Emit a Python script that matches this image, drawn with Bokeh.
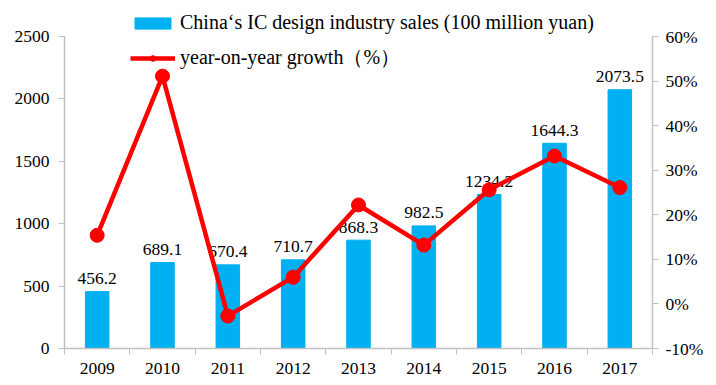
from bokeh.plotting import figure
from bokeh.models import (Range1d, LinearAxis, FixedTicker, NumeralTickFormatter,
                          Legend, LegendItem, ColumnDataSource)
from bokeh.embed import file_html
from bokeh.resources import INLINE
from bokeh.core.properties import value

years = ["2009", "2010", "2011", "2012", "2013", "2014", "2015", "2016", "2017"]
sales = [456.2, 689.1, 670.4, 710.7, 868.3, 982.5, 1234.2, 1644.3, 2073.5]
growth = [0.154, 0.511, -0.027, 0.060, 0.222, 0.132, 0.256, 0.332, 0.261]
sales_labels = ["456.2", "689.1", "670.4", "710.7", "868.3", "982.5", "1234.2", "1644.3", "2073.5"]
left_ticks = [0, 500, 1000, 1500, 2000, 2500]
right_ticks = [-0.1, 0, 0.1, 0.2, 0.3, 0.4, 0.5, 0.6]

FONT = "Liberation Serif"
GREY = "#bfbfbf"
BLUE = "#00B0F0"
RED = "#FF0000"

# frame extends above the top tick so that the legend is not clipped
AXIS_PX = 312.0   # height of the drawn axis span
TOP_PAD = 31.0    # extra frame height above the top tick
ext = (AXIS_PX + TOP_PAD) / AXIS_PX

xs = [i + 0.5 for i in range(len(years))]
src = ColumnDataSource(dict(x=xs, sales=sales, growth=growth, lab=sales_labels))

l0, l1 = left_ticks[0], left_ticks[-1]
r0, r1 = right_ticks[0], right_ticks[-1]

p = figure(width=708, height=377, output_backend="svg", toolbar_location=None,
           x_range=Range1d(0, len(years)), y_range=Range1d(l0, l0 + (l1 - l0) * ext),
           min_border_left=64, min_border_right=56, min_border_top=5, min_border_bottom=29)
p.outline_line_color = None
p.xgrid.visible = False
p.ygrid.visible = False
p.extra_y_ranges = {"pct": Range1d(r0, r0 + (r1 - r0) * ext)}

bars = p.vbar(x="x", top="sales", width=0.36, color=BLUE, source=src)
p.text(x="x", y="sales", text="lab", source=src, text_align="center",
       text_baseline="alphabetic", y_offset=-13, text_font=value(FONT),
       text_font_size="17.5px", text_color="#000000")
line = p.line(x="x", y="growth", y_range_name="pct", line_color=RED, line_width=4.5, source=src)
dots = p.scatter(x="x", y="growth", y_range_name="pct", size=14, fill_color=RED,
                 line_color=RED, source=src)

# x axis
xa = p.xaxis[0]
xa.ticker = FixedTicker(ticks=xs, minor_ticks=list(range(len(years) + 1)))
xa.major_label_overrides = {x: y for x, y in zip(xs, years)}
xa.major_tick_line_color = None
xa.major_tick_out = 0
xa.major_tick_in = 0
xa.minor_tick_line_color = GREY
xa.minor_tick_out = 6
xa.minor_tick_in = 0
xa.axis_line_color = GREY
xa.axis_line_width = 1.5
xa.major_label_standoff = 8

# left axis
ya = p.yaxis[0]
ya.ticker = FixedTicker(ticks=left_ticks)
ya.bounds = (l0, l1)
ya.minor_tick_line_color = None
ya.major_tick_line_color = GREY
ya.major_tick_out = 6
ya.major_tick_in = 0
ya.axis_line_color = GREY
ya.axis_line_width = 1.5
ya.major_label_standoff = 9

ra = LinearAxis(y_range_name="pct", ticker=FixedTicker(ticks=right_ticks),
                formatter=NumeralTickFormatter(format="0%"), bounds=(r0, r1))
ra.minor_tick_line_color = None
ra.major_tick_line_color = GREY
ra.major_tick_out = 6
ra.major_tick_in = 0
ra.axis_line_color = GREY
ra.axis_line_width = 1.5
ra.major_label_standoff = 7
p.add_layout(ra, "right")

for ax in (xa, ya, ra):
    ax.major_label_text_font = FONT
    ax.major_label_text_font_size = "17.5px"
    ax.major_label_text_color = "#000000"

legend = Legend(items=[
    LegendItem(label="China‘s IC design industry sales (100 million yuan)", renderers=[bars]),
    LegendItem(label="year-on-year growth（%）", renderers=[line, dots]),
], location=(66, 277), orientation="vertical")
legend.border_line_color = None
legend.background_fill_alpha = 0
legend.padding = 0
legend.margin = 0
legend.spacing = 10
legend.glyph_width = 45
legend.glyph_height = 14
legend.label_height = 20
legend.label_standoff = 5
legend.label_text_font = FONT
legend.label_text_font_size = "20px"
legend.label_text_color = "#000000"
p.add_layout(legend, "center")

open("out.html", "w").write(file_html(p, INLINE))
